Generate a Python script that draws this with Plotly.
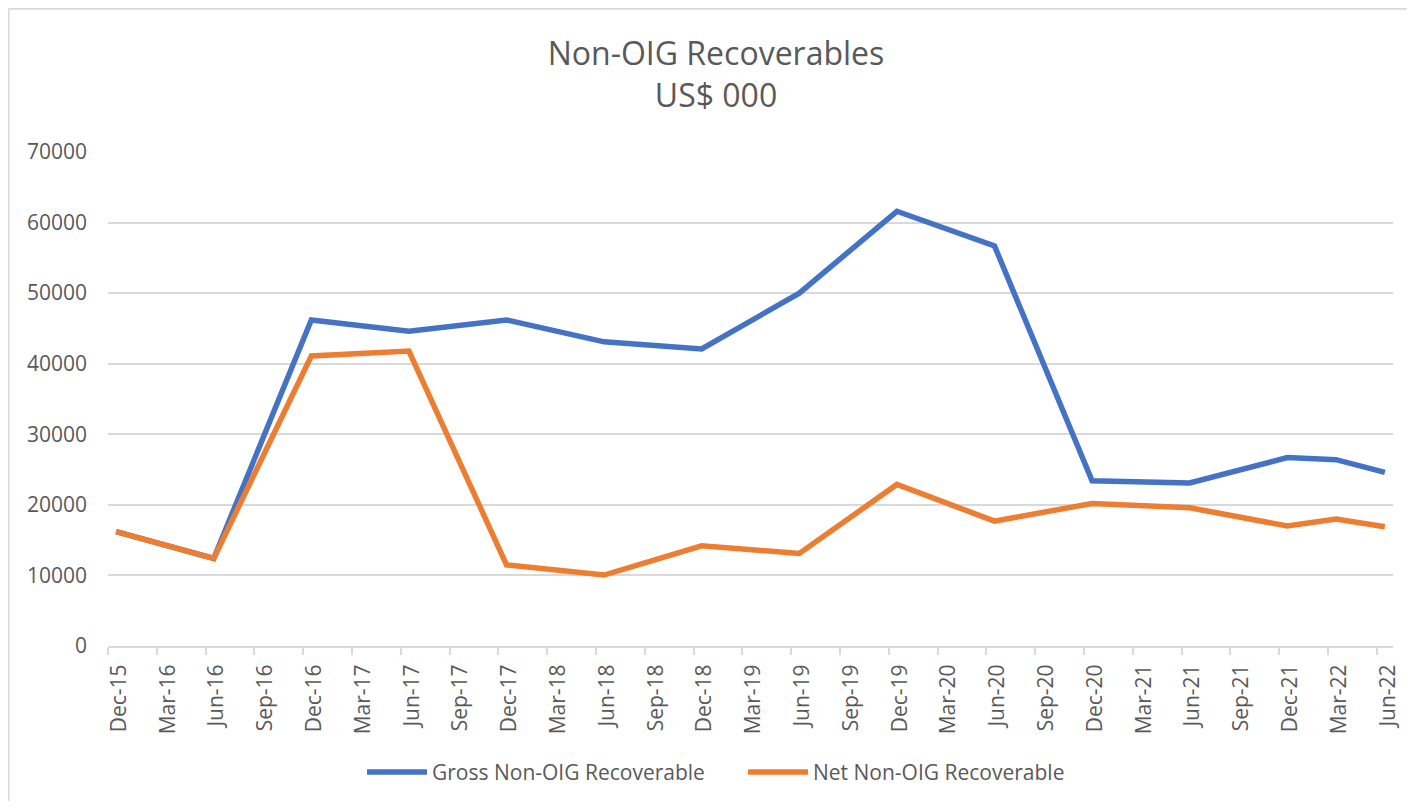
import plotly.graph_objects as go

quarters = ["Dec-15", "Mar-16", "Jun-16", "Sep-16", "Dec-16", "Mar-17", "Jun-17", "Sep-17",
            "Dec-17", "Mar-18", "Jun-18", "Sep-18", "Dec-18", "Mar-19", "Jun-19", "Sep-19",
            "Dec-19", "Mar-20", "Jun-20", "Sep-20", "Dec-20", "Mar-21", "Jun-21", "Sep-21",
            "Dec-21", "Mar-22", "Jun-22"]

gross = [16200, None, 12400, None, 46200, None, 44600, None,
         46200, None, 43100, None, 42100, None, 50000, None,
         61600, None, 56700, None, 23400, None, 23100, None,
         26700, 26400, 24600]

net = [16200, None, 12400, None, 41100, None, 41800, None,
       11500, None, 10050, None, 14200, None, 13100, None,
       22900, None, 17700, None, 20200, None, 19600, None,
       17000, 18000, 16900]

# monthly date-style axis: each quarter label sits at a month slot start; points at slot centre
xpos = [3 * i + 0.5 for i in range(len(quarters))]
tick_lab_pos = [3 * i + 0.68 for i in range(len(quarters))]
tick_mark_pos = [3 * i for i in range(len(quarters))]

FONT = "Open Sans"
GREY = "#595959"
GRID = "#D9D9D9"

fig = go.Figure()
fig.add_trace(go.Scatter(x=xpos, y=gross, name="Gross Non-OIG Recoverable", mode="lines",
                         connectgaps=True, line=dict(color="#4472C4", width=5.5)))
fig.add_trace(go.Scatter(x=xpos, y=net, name="Net Non-OIG Recoverable", mode="lines",
                         connectgaps=True, line=dict(color="#ED7D31", width=5.5)))

# page has an 8px body margin; figure sized/placed to compensate
L, R, T, B = 100, 14, 144, 154.5
W, H = 1399, 793
pw = W - L - R
ph = H - T - B

fig.update_layout(
    width=W, height=H,
    margin=dict(l=L, r=R, t=T, b=B, autoexpand=False),
    paper_bgcolor="white", plot_bgcolor="white",
    font=dict(family=FONT, color=GREY),
    title=dict(text="Non-OIG Recoverables<br>US$ 000", x=708 / W, xanchor="center",
               xref="container", yref="container", y=1 - 57 / H, yanchor="middle",
               font=dict(size=32, color=GREY, family=FONT)),
    showlegend=True,
    legend=dict(orientation="h", x=(354 - L) / pw, xanchor="left", y=(ph - (765 - T)) / ph,
                yanchor="middle", font=dict(size=21, color=GREY), itemwidth=60,
                entrywidth=306, entrywidthmode="pixels", tracegroupgap=0),
    xaxis=dict(range=[0, 3 * (len(quarters) - 1) + 1], tickmode="array",
               tickvals=tick_lab_pos, ticktext=quarters, tickangle=-90,
               ticks="", ticklabelstandoff=8, automargin=False,
               tickfont=dict(size=21, color=GREY),
               showgrid=False, zeroline=False, showline=True, linecolor=GRID, linewidth=2,
               minor=dict(tickmode="array", tickvals=tick_mark_pos, ticks="outside",
                          ticklen=7, tickcolor=GRID, tickwidth=1.5, showgrid=False)),
    yaxis=dict(range=[0, 70000], tickmode="linear", tick0=0, dtick=10000, tickformat="d",
               showgrid=True, gridcolor=GRID, gridwidth=1.5, zeroline=False,
               showline=False, ticks="", ticklabelstandoff=20, automargin=False,
               tickfont=dict(size=21, color=GREY)),
)

# chart-area border (top and left edges visible in the reference)
bx = (0.5 - L) / pw
by = (H - B - 0.5) / ph
fig.add_shape(type="line", xref="paper", yref="paper", x0=bx, x1=bx, y0=-2, y1=by,
              line=dict(color=GRID, width=2))
fig.add_shape(type="line", xref="paper", yref="paper", x0=bx, x1=2, y0=by, y1=by,
              line=dict(color=GRID, width=2))

fig.write_html("out.html")
